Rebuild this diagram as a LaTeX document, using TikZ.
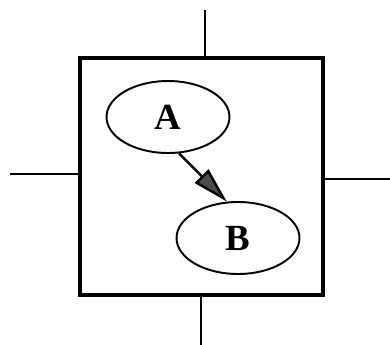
\documentclass[tikz,border=0pt]{standalone}
\usepackage{fontspec}
\setmainfont{Liberation Serif}
\usepackage{tikz}
\usetikzlibrary{positioning, shapes.geometric, arrows.meta}

\tikzset{
  var/.style={ellipse, draw, line width=1.1pt, minimum width=2.46cm, minimum height=1.44cm,
    font=\fontsize{21}{24}\selectfont\bfseries},
  port/.style={line width=1.1pt}
}

\begin{document}
\begin{tikzpicture}[x=0.02cm, y=-0.02cm]
        \useasboundingbox (0,0) rectangle (390,345);

        % Outer box
        \node[draw, line width=2.4pt, minimum width=4.86cm, minimum height=4.74cm] (frame) at (201.5,176.5) {};

        % Variables
        \node[var] (a) at (168,117) {A};
        \node[var] (b) at (238,238) {B};

        % Edge
        \draw[line width=1.4pt, -{Triangle[length=0.72cm, width=0.38cm, fill=black!70]}] (a.-73) -- (b.107);

        % Lines leaving the box
        \coordinate (top)   at (205,10);
        \coordinate (bot)   at (201,345);
        \coordinate (left)  at (10,174);
        \coordinate (right) at (390,179);
        \draw[port] (top) -- (top |- frame.north);
        \draw[port] (bot) -- (bot |- frame.south);
        \draw[port] (left) -- (left -| frame.west);
        \draw[port] (right) -- (right -| frame.east);
    \end{tikzpicture}
\end{document}
